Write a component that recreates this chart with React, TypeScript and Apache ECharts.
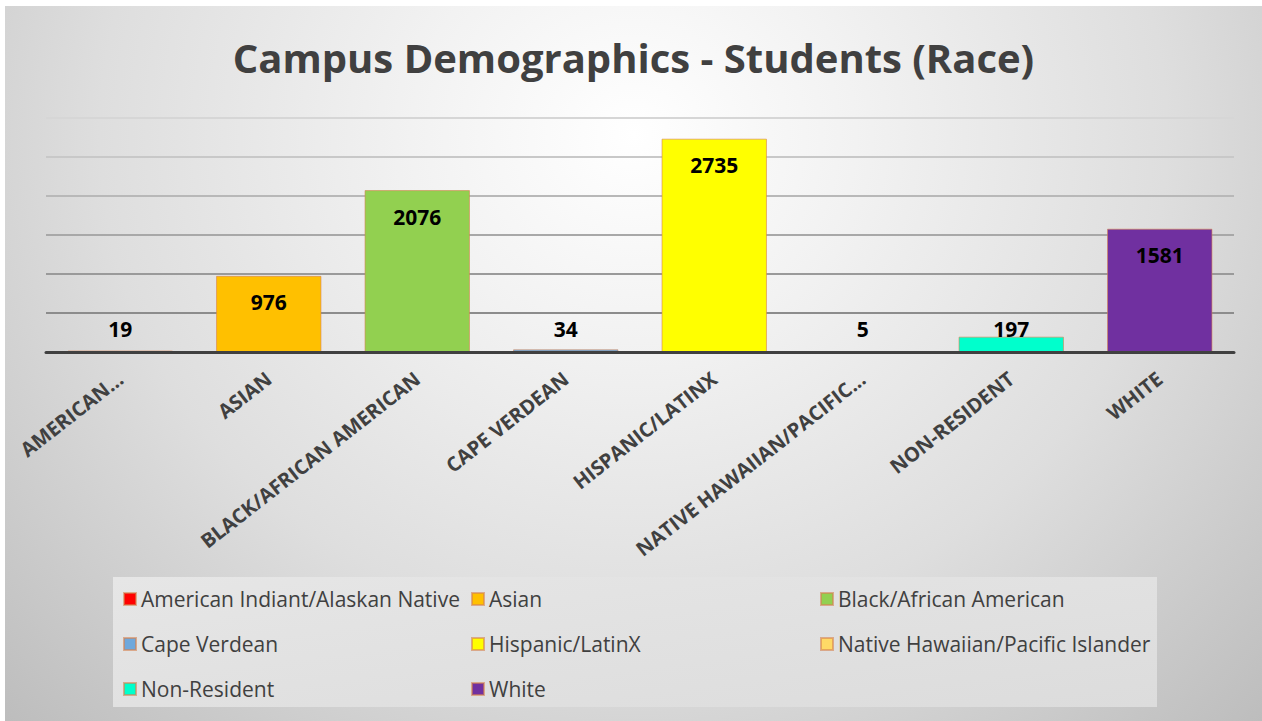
import React, { useEffect, useRef } from "react";
import * as echarts from "echarts";

const legendNames = [
  "American Indiant/Alaskan Native",
  "Asian",
  "Black/African American",
  "Cape Verdean",
  "Hispanic/LatinX",
  "Native Hawaiian/Pacific Islander",
  "Non-Resident",
  "White",
];
const axisLabels = [
  "AMERICAN...",
  "ASIAN",
  "BLACK/AFRICAN AMERICAN",
  "CAPE VERDEAN",
  "HISPANIC/LATINX",
  "NATIVE HAWAIIAN/PACIFIC...",
  "NON-RESIDENT",
  "WHITE",
];
const studentCounts = [19, 976, 2076, 34, 2735, 5, 197, 1581];
const barColors = ["#ff0000", "#ffc000", "#92d050", "#6fa8dc", "#ffff00", "#ffd966", "#00ffcc", "#7030a0"];
const legendColumns = [
  ["American Indiant/Alaskan Native", "Cape Verdean", "Non-Resident"],
  ["Asian", "Hispanic/LatinX", "White"],
  ["Black/African American", "Native Hawaiian/Pacific Islander"],
];
const yMin = 0;
const yMax = 3000;
const yInterval = 500;

export default function App() {
  const ref = useRef<HTMLDivElement>(null);
  useEffect(() => {
    if (!ref.current) return;
    const chart = echarts.init(ref.current, undefined, { renderer: "svg" });
    const font = "'Open Sans', 'DejaVu Sans', sans-serif";
    const series = legendNames.map((name, i) => ({
      name,
      type: "bar",
      stack: "total",
      barCategoryGap: "29%",
      itemStyle: {
        color: barColors[i],
        borderColor: "rgba(214,130,80,0.6)",
        borderWidth: 1,
      },
      label: {
        show: true,
        color: "#000",
        fontWeight: "bold",
        fontSize: 21,
        fontFamily: font,
        position: studentCounts[i] < 400 ? "insideBottom" : "insideTop",
        distance: studentCounts[i] < 400 ? 13 : 16,
      },
      data: studentCounts.map((v, j) => (j === i ? v : "-")),
    }));
    const legends = legendColumns.map((col, c) => ({
      orient: "vertical",
      left: [118, 466, 815][c],
      top: 582,
      padding: 0,
      itemWidth: 12,
      itemHeight: 12,
      itemGap: 23,
      icon: "rect",
      selectedMode: false,
      textStyle: { color: "#404040", fontSize: 21, fontFamily: font, lineHeight: 22 },
      data: col,
    }));
    chart.setOption({
      animation: false,
      backgroundColor: "transparent",
      title: {
        text: "Campus Demographics - Students (Race)",
        left: "center",
        top: 31,
        padding: 0,
        textStyle: { color: "#404040", fontSize: 40, fontWeight: "bold", fontFamily: font },
      },
      graphic: [
        {
          type: "rect",
          shape: { x: 108, y: 571, width: 1044, height: 130 },
          style: {
            fill: new echarts.graphic.LinearGradient(0, 0, 1, 1, [
              { offset: 0, color: "#e6e6e6" },
              { offset: 1, color: "#dcdcdc" },
            ]),
          },
          z: -1,
        },
      ],
      legend: legends,
      grid: { left: 41, right: 28, top: 112, height: 234 },
      xAxis: {
        type: "category",
        data: axisLabels,
        z: 3,
        axisLine: { lineStyle: { color: "#404040", width: 3 } },
        axisTick: { show: false },
        axisLabel: {
          interval: 0,
          rotate: 38,
          margin: 24,
          color: "#404040",
          fontWeight: "bold",
          fontSize: 20,
          fontFamily: font,
        },
      },
      yAxis: {
        type: "value",
        min: yMin,
        max: yMax,
        interval: yInterval,
        axisLabel: { show: false },
        axisLine: { show: false },
        axisTick: { show: false },
        splitLine: {
          lineStyle: {
            width: 2,
            color: ["#8c8c8c", "#8c8c8c", "#9a9a9a", "#a8a8a8", "#b8b8b8", "#c8c8c8", "#d6d6d6"],
          },
        },
      },
      series,
    });
    return () => chart.dispose();
  }, []);
  return (
    <div
      style={{
        position: "fixed",
        left: 0,
        top: 0,
        width: 1262,
        height: 721,
        background: "#ffffff",
      }}
    >
      <div
        ref={ref}
        style={{
          position: "absolute",
          left: 5,
          top: 6,
          width: 1257,
          height: 715,
          background:
            "radial-gradient(ellipse farthest-corner at 50% 18%, #ffffff 0%, #f2f2f2 25%, #dedede 60%, #bdbdbd 100%)",
        }}
      />
    </div>
  );
}
